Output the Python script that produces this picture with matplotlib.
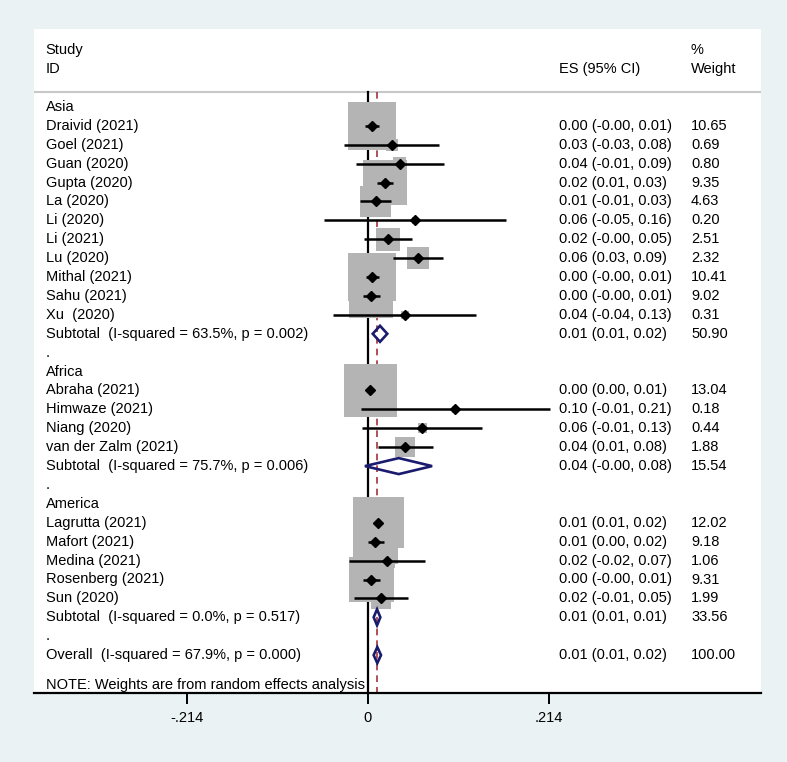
import matplotlib.pyplot as plt
import matplotlib.transforms as mtransforms
from matplotlib.patches import Rectangle, Polygon

plt.rcParams['font.family'] = ['Liberation Sans', 'DejaVu Sans']

# ---- data ----
asia_names = ["Draivid (2021)", "Goel (2021)", "Guan (2020)", "Gupta (2020)", "La (2020)",
              "Li (2020)", "Li (2021)", "Lu (2020)", "Mithal (2021)", "Sahu (2021)", "Xu  (2020)"]
asia_es = [0.0044, 0.0288, 0.0375, 0.0201, 0.0091, 0.0553, 0.0237, 0.0588, 0.0047, 0.0039, 0.0434]
asia_lo = [-0.0032, -0.028, -0.0146, 0.011, -0.0095, -0.0517, -0.0044, 0.030, -0.0024, -0.0056, -0.041]
asia_hi = [0.0127, 0.0844, 0.090, 0.030, 0.0276, 0.1625, 0.0517, 0.0884, 0.0127, 0.0142, 0.1278]
asia_wt = [10.65, 0.69, 0.80, 9.35, 4.63, 0.20, 2.51, 2.32, 10.41, 9.02, 0.31]
asia_ci = ["0.00 (-0.00, 0.01)", "0.03 (-0.03, 0.08)", "0.04 (-0.01, 0.09)", "0.02 (0.01, 0.03)",
           "0.01 (-0.01, 0.03)", "0.06 (-0.05, 0.16)", "0.02 (-0.00, 0.05)", "0.06 (0.03, 0.09)",
           "0.00 (-0.00, 0.01)", "0.00 (-0.00, 0.01)", "0.04 (-0.04, 0.13)"]
asia_sub = [0.0142, 0.0056, 0.0228]
asia_sub_lab = "Subtotal  (I-squared = 63.5%, p = 0.002)"
asia_sub_ci = "0.01 (0.01, 0.02)"
asia_sub_wt = "50.90"

africa_names = ["Abraha (2021)", "Himwaze (2021)", "Niang (2020)", "van der Zalm (2021)"]
africa_es = [0.0027, 0.103, 0.0643, 0.0438]
africa_lo = [0.0005, -0.0086, -0.0071, 0.0115]
africa_hi = [0.0065, 0.2154, 0.1346, 0.0766]
africa_wt = [13.04, 0.18, 0.44, 1.88]
africa_ci = ["0.00 (0.00, 0.01)", "0.10 (-0.01, 0.21)", "0.06 (-0.01, 0.13)", "0.04 (0.01, 0.08)"]
africa_sub = [0.0363, -0.0036, 0.0757]
africa_sub_lab = "Subtotal  (I-squared = 75.7%, p = 0.006)"
africa_sub_ci = "0.04 (-0.00, 0.08)"
africa_sub_wt = "15.54"

america_names = ["Lagrutta (2021)", "Mafort (2021)", "Medina (2021)", "Rosenberg (2021)", "Sun (2020)"]
america_es = [0.0122, 0.0086, 0.0228, 0.0039, 0.0154]
america_lo = [0.009, 0.0002, -0.0225, -0.0056, -0.0162]
america_hi = [0.016, 0.0186, 0.0675, 0.0142, 0.0477]
america_wt = [12.02, 9.18, 1.06, 9.31, 1.99]
america_ci = ["0.01 (0.01, 0.02)", "0.01 (0.00, 0.02)", "0.02 (-0.02, 0.07)",
              "0.00 (-0.00, 0.01)", "0.02 (-0.01, 0.05)"]
america_sub = [0.0107, 0.0067, 0.0146]
america_sub_lab = "Subtotal  (I-squared = 0.0%, p = 0.517)"
america_sub_ci = "0.01 (0.01, 0.01)"
america_sub_wt = "33.56"

overall = [0.011, 0.0067, 0.0154]
overall_lab = "Overall  (I-squared = 67.9%, p = 0.000)"
overall_ci = "0.01 (0.01, 0.02)"
overall_wt = "100.00"

tick_vals = [-0.214, 0, 0.214]
tick_labels = ["-.214", "0", ".214"]

groups = [
    ("Asia", asia_names, asia_es, asia_lo, asia_hi, asia_wt, asia_ci,
     asia_sub, asia_sub_lab, asia_sub_ci, asia_sub_wt),
    ("Africa", africa_names, africa_es, africa_lo, africa_hi, africa_wt, africa_ci,
     africa_sub, africa_sub_lab, africa_sub_ci, africa_sub_wt),
    ("America", america_names, america_es, america_lo, america_hi, america_wt, america_ci,
     america_sub, america_sub_lab, america_sub_ci, america_sub_wt),
]

# ---- figure / layout ----
W, H = 787, 762
fig = plt.figure(figsize=(W / 100, H / 100), dpi=100)
fig.patch.set_facecolor('#EAF2F3')
ax_l, ax_r, ax_t, ax_b = 34, 761, 29.3, 693.3
ax = fig.add_axes([ax_l / W, 1 - ax_b / H, (ax_r - ax_l) / W, (ax_b - ax_t) / H])
ax.set_facecolor('white')

xmin, xmax = -0.3943, 0.464
row0, rowh = 107.0, 18.9
ytop = (ax_t - row0) / rowh
ybot = (ax_b - row0) / rowh
ax.set_xlim(xmin, xmax)
ax.set_ylim(ybot, ytop)
px_x = (ax_r - ax_l) / (xmax - xmin)

fs = 10.5
tr = mtransforms.blended_transform_factory(ax.transAxes, ax.transData)
col_lab, col_ci, col_wt = 0.0161, 0.722, 0.9037

def row_text(r, lab, ci=None, wt=None):
    ax.text(col_lab, r, lab, transform=tr, fontsize=fs, va='center', ha='left')
    if ci is not None:
        ax.text(col_ci, r, ci, transform=tr, fontsize=fs, va='center', ha='left')
    if wt is not None:
        ax.text(col_wt, r, wt, transform=tr, fontsize=fs, va='center', ha='left')

def diamond(r, est, lo, hi):
    hh = 8.0 / rowh
    ax.add_patch(Polygon([(lo, r), (est, r - hh), (hi, r), (est, r + hh)], closed=True,
                         fill=False, edgecolor='#1A1A6E', lw=1.9, zorder=6))

# header
ax.text(col_lab, -3.02, "Study", transform=tr, fontsize=fs, va='center')
ax.text(col_lab, -2.01, "ID", transform=tr, fontsize=fs, va='center')
ax.text(col_ci, -2.01, "ES (95% CI)", transform=tr, fontsize=fs, va='center')
ax.text(col_wt, -3.02, "%", transform=tr, fontsize=fs, va='center')
ax.text(col_wt, -2.01, "Weight", transform=tr, fontsize=fs, va='center')
sep = (91.7 - row0) / rowh
ax.axhline(sep, color='#C8C8C8', lw=1.5, zorder=1)

r = 0
for gi, (gname, names, es, lo, hi, wt, ci, sub, sub_lab, sub_ci, sub_wt) in enumerate(groups):
    row_text(r, gname)
    r += 1
    for n, e, l, h, w, c in zip(names, es, lo, hi, wt, ci):
        side = 14.68 * w ** 0.5
        bw, bh = side / px_x, side / rowh
        ax.add_patch(Rectangle((e - bw / 2, r - bh / 2), bw, bh, facecolor='#B4B4B4',
                               edgecolor='none', zorder=3))
        ax.plot([l, h], [r, r], color='black', lw=1.8, zorder=4, solid_capstyle='butt')
        ax.plot(e, r, marker='D', color='black', markersize=5, zorder=5)
        row_text(r, n, c, f"{w:.2f}")
        r += 1
    diamond(r, *sub)
    row_text(r, sub_lab, sub_ci, sub_wt)
    r += 1
    row_text(r, ".")
    r += 1

diamond(r, *overall)
row_text(r, overall_lab, overall_ci, overall_wt)
ax.text(col_lab, r + 1.58, "NOTE: Weights are from random effects analysis",
        transform=tr, fontsize=fs, va='center')

# reference lines
ax.plot([0, 0], [sep, ybot], color='black', lw=1.6, zorder=2)
ax.plot([overall[0], overall[0]], [sep, ybot], color='#A0353A', lw=1.2,
        ls=(0, (4, 3)), zorder=2)

# axis
for s in ['top', 'left', 'right']:
    ax.spines[s].set_visible(False)
ax.spines['bottom'].set_linewidth(1.6)
ax.set_yticks([])
ax.set_xticks(tick_vals)
ax.set_xticklabels(tick_labels, fontsize=fs)
ax.tick_params(axis='x', length=8, width=1.4, pad=5)

fig.savefig('out.png', dpi=100, facecolor=fig.get_facecolor())
